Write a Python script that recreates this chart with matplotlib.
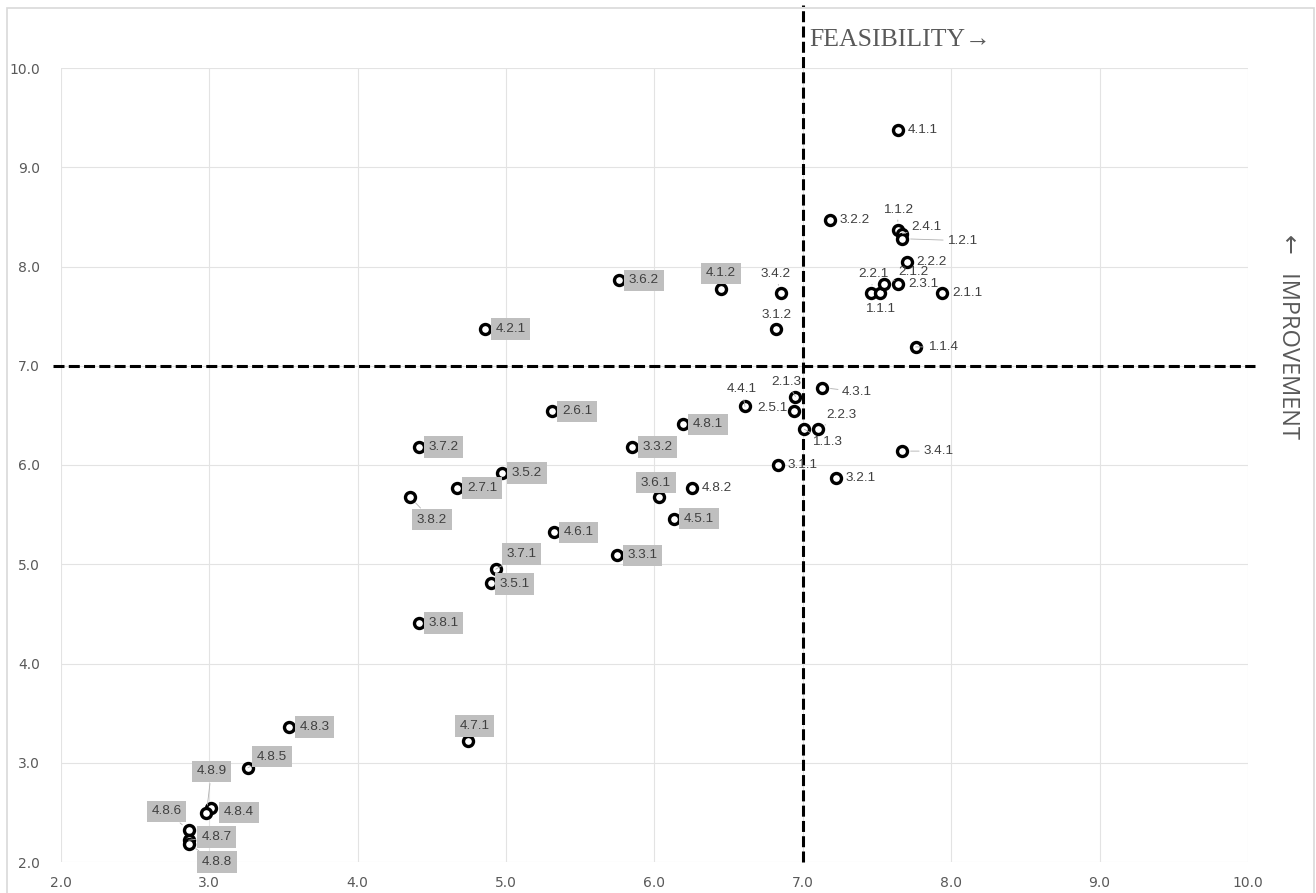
import matplotlib.pyplot as plt
from matplotlib.patches import Rectangle

# item codes, feasibility (x), improvement (y)
labels = ["4.1.1", "3.2.2", "1.1.2", "2.4.1", "1.2.1", "2.2.2", "2.2.1", "1.1.1",
          "2.1.2", "2.3.1", "2.1.1", "1.1.4", "3.4.2", "3.1.2", "4.1.2", "3.6.2",
          "4.2.1", "4.4.1", "2.1.3", "2.5.1", "1.1.3", "2.2.3", "4.3.1", "3.4.1",
          "3.1.1", "3.2.1", "2.6.1", "4.8.1", "3.7.2", "3.3.2", "3.5.2", "2.7.1",
          "3.8.2", "3.6.1", "4.8.2", "4.5.1", "4.6.1", "3.3.1", "3.7.1", "3.5.1",
          "3.8.1", "4.7.1", "4.8.3", "4.8.5", "4.8.4", "4.8.9", "4.8.6", "4.8.7",
          "4.8.8"]
feasibility = [7.64, 7.18, 7.64, 7.67, 7.67, 7.70, 7.46, 7.52,
               7.55, 7.64, 7.94, 7.76, 6.85, 6.82, 6.45, 5.76,
               4.86, 6.61, 6.95, 6.94, 7.01, 7.10, 7.13, 7.67,
               6.83, 7.22, 5.31, 6.19, 4.41, 5.85, 4.97, 4.67,
               4.35, 6.03, 6.25, 6.13, 5.32, 5.75, 4.93, 4.90,
               4.41, 4.74, 3.54, 3.26, 3.01, 2.98, 2.86, 2.86,
               2.86]
improvement = [9.38, 8.47, 8.37, 8.33, 8.28, 8.05, 7.73, 7.73,
               7.82, 7.82, 7.73, 7.19, 7.73, 7.37, 7.77, 7.86,
               7.37, 6.59, 6.69, 6.54, 6.36, 6.36, 6.78, 6.14,
               6.00, 5.87, 6.54, 6.41, 6.18, 6.18, 5.92, 5.77,
               5.68, 5.68, 5.77, 5.46, 5.32, 5.09, 4.95, 4.81,
               4.41, 3.22, 3.36, 2.95, 2.54, 2.49, 2.32, 2.22,
               2.18]
# labels drawn with a grey highlight box
boxed = {"4.1.2", "3.6.2", "4.2.1", "2.6.1", "4.8.1", "3.7.2", "3.3.2", "3.5.2",
         "2.7.1", "3.8.2", "3.6.1", "4.5.1", "4.6.1", "3.3.1", "3.7.1", "3.5.1",
         "3.8.1", "4.7.1", "4.8.3", "4.8.5", "4.8.4", "4.8.9", "4.8.6", "4.8.7",
         "4.8.8"}

# label placement in pixels: dx, dy (up), alignment, leader line
layout = {
    "4.1.2": (0, 16, "center", False),
    "3.4.2": (-5, 19, "center", True),
    "3.1.2": (0, 14, "center", False),
    "1.1.2": (0, 20, "center", True),
    "2.4.1": (9, 7, "left", True),
    "1.2.1": (45, -2, "left", True),
    "2.2.1": (2, 19, "center", True),
    "2.1.2": (14, 12, "left", True),
    "1.1.1": (0, -16, "center", False),
    "1.1.4": (12, 0, "left", True),
    "4.4.1": (-3, 17, "center", True),
    "2.1.3": (-9, 15, "center", True),
    "2.5.1": (-6, 3, "right", False),
    "1.1.3": (8, -13, "left", True),
    "2.2.3": (9, 14, "left", True),
    "4.3.1": (20, -4, "left", True),
    "3.4.1": (21, 0, "left", True),
    "3.6.1": (-3, 14, "center", False),
    "3.8.2": (7, -23, "left", True),
    "3.7.1": (11, 15, "left", True),
    "3.5.1": (8, -1, "left", False),
    "4.7.1": (7, 15, "center", False),
    "4.8.5": (9, 11, "left", True),
    "4.8.9": (5, 42, "center", True),
    "4.8.4": (13, -4, "left", False),
    "4.8.6": (-7, 19, "right", True),
    "4.8.7": (13, 3, "left", True),
    "4.8.8": (13, -18, "left", True),
}

fig = plt.figure(figsize=(13.16, 8.93), dpi=100)
fig.patches.append(Rectangle((7 / 1316, -0.01), 1307 / 1316, 1 - 8 / 893 + 0.01,
                             transform=fig.transFigure, fill=False,
                             edgecolor="#d9d9d9", lw=1.2))
ax = fig.add_axes([61 / 1316, 31 / 893, 1187 / 1316, 794 / 893])

ax.set_xlim(2, 10)
ax.set_ylim(2, 10)
ax.set_xticks(range(2, 11))
ax.set_yticks(range(2, 11))
ax.set_xticklabels([f"{v:.1f}" for v in range(2, 11)])
ax.set_yticklabels([f"{v:.1f}" for v in range(2, 11)])
ax.grid(True, color="#e3e3e3", lw=0.8)
ax.set_axisbelow(True)
for s in ax.spines.values():
    s.set_visible(False)
ax.tick_params(length=0, colors="#595959", labelsize=10)
ax.tick_params(axis="y", pad=15)
ax.tick_params(axis="x", pad=10)

# quadrant dividers
ax.plot([1.946, 10.05], [7, 7], color="black", lw=2.2,
        linestyle=(0, (3.6, 1.4)), clip_on=False, zorder=2)
ax.plot([7, 7], [2, 10.63], color="black", lw=2.2,
        linestyle=(0, (3.6, 1.4)), clip_on=False, zorder=2)

ax.scatter(feasibility, improvement, s=52, facecolor="white",
           edgecolor="black", linewidths=2.4, zorder=4)

px = 0.72
for name, x, y in zip(labels, feasibility, improvement):
    dx, dy, ha, leader = layout.get(name, (10, 0, "left", False))
    kw = {}
    if name in boxed:
        kw["bbox"] = dict(boxstyle="square,pad=0.35", fc="#bfbfbf", ec="none")
    if leader:
        kw["arrowprops"] = dict(arrowstyle="-", color="#b0b0b0", lw=0.6,
                                shrinkA=1, shrinkB=6)
    ax.annotate(name, (x, y), xytext=(dx * px, dy * px),
                textcoords="offset points", ha=ha, va="center",
                fontsize=9.7, color="#404040", family="Liberation Sans",
                zorder=5, **kw)

fig.text(900 / 1316, 1 - 40 / 893, "FEASIBILITY\u2192", ha="center", va="center",
         family="Liberation Serif", fontsize=18.5, color="#595959")
fig.text(1288 / 1316, 1 - 337 / 893, "\u2190   IMPROVEMENT", ha="center",
         va="center", rotation=-90, fontsize=17, color="#595959",
         family=["Open Sans", "DejaVu Sans"])

fig.savefig("out.png", dpi=100)
